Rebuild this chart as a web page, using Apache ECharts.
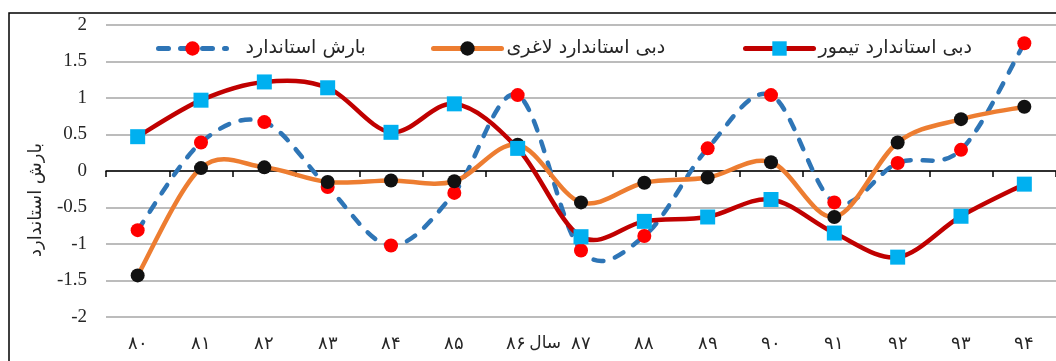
<!DOCTYPE html>
<html>
<head>
<meta charset="utf-8">
<script src="https://cdn.jsdelivr.net/npm/echarts@6/dist/echarts.min.js"></script>
<style>
  html, body { margin: 0; padding: 0; background: #fff; }
  #chart { width: 1056px; height: 361px; }
</style>
</head>
<body>
<div id="chart"></div>
<script>
// Years (Persian digits) on the category axis
const years = ['۸۰', '۸۱', '۸۲', '۸۳', '۸۴', '۸۵', '۸۶', '۸۷', '۸۸', '۸۹', '۹۰', '۹۱', '۹۲', '۹۳', '۹۴'];

// Series names
const namePrecip = 'بارش استاندارد';
const nameLaghari = 'دبی استاندارد لاغری';
const nameTeymour = 'دبی استاندارد تیمور';

// Standardized values per year
const precip = [-0.81, 0.39, 0.67, -0.22, -1.02, -0.30, 1.04, -1.09, -0.89, 0.31, 1.04, -0.43, 0.11, 0.29, 1.75];
const flowLaghari = [-1.43, 0.04, 0.05, -0.15, -0.13, -0.14, 0.36, -0.43, -0.16, -0.09, 0.12, -0.63, 0.39, 0.71, 0.88];
const flowTeymour = [0.47, 0.97, 1.22, 1.14, 0.53, 0.92, 0.31, -0.90, -0.69, -0.63, -0.39, -0.85, -1.18, -0.62, -0.18];

// Value axis range
const yMin = -2, yMax = 2, yStep = 0.5;

const axisTitle = 'بارش استاندارد';
const yearWord = 'سال';
const yearWordAt = '۸۶';

const persianFont = '"DejaVu Sans", "Noto Sans", sans-serif';
const latinFont = '"Liberation Serif", "DejaVu Serif", serif';

const colors = {
  precipLine: '#2e75b6', precipMark: '#ff0000',
  laghariLine: '#ed7d31', laghariMark: '#111111',
  teymourLine: '#c00000', teymourMark: '#00b0f0'
};
const lineWidth = 4.5;
const dashPattern = [10, 12];

const chart = echarts.init(document.getElementById('chart'), null, { renderer: 'canvas' });

// Smooth curve through the values (uniform Catmull-Rom, as cubic Beziers),
// positioned with the chart's own axes via api.coord.
function curveSeries(id, values, color, dash) {
  return {
    id: id,
    type: 'custom',
    data: [0],
    silent: true,
    renderItem: function (params, api) {
      const pts = values.map(function (v, i) { return api.coord([i, v]); });
      const n = pts.length;
      let d = 'M' + pts[0][0] + ',' + pts[0][1];
      for (let i = 0; i < n - 1; i++) {
        const p0 = pts[Math.max(i - 1, 0)];
        const p1 = pts[i];
        const p2 = pts[i + 1];
        const p3 = pts[Math.min(i + 2, n - 1)];
        const c1x = p1[0] + (p2[0] - p0[0]) / 6;
        const c1y = p1[1] + (p2[1] - p0[1]) / 6;
        const c2x = p2[0] - (p3[0] - p1[0]) / 6;
        const c2y = p2[1] - (p3[1] - p1[1]) / 6;
        d += ' C' + c1x + ',' + c1y + ' ' + c2x + ',' + c2y + ' ' + p2[0] + ',' + p2[1];
      }
      return {
        type: 'path',
        shape: { pathData: d },
        style: {
          fill: 'none',
          stroke: color,
          lineWidth: lineWidth,
          lineDash: dash || null,
          lineCap: 'round',
          lineJoin: 'round'
        }
      };
    }
  };
}

// Markers for each year (the line itself is drawn by curveSeries)
function markerSeries(name, values, markColor, symbol, size) {
  return {
    name: name,
    type: 'line',
    data: values,
    symbol: symbol,
    symbolSize: size,
    showAllSymbol: true,
    itemStyle: { color: markColor },
    lineStyle: { opacity: 0 }
  };
}

function legendAt(name, left, textGap, color, type) {
  return {
    data: [name],
    left: left,
    top: 34,
    itemWidth: 68,
    itemHeight: 18,
    itemGap: 0,
    lineStyle: { color: color, width: 5, type: type, cap: 'round', opacity: 1 },
    textStyle: {
      fontFamily: persianFont, fontSize: 19, color: '#262626',
      padding: [0, 0, 0, textGap]
    }
  };
}

chart.setOption({
  animation: false,
  backgroundColor: '#fff',
  grid: { left: 106, right: -6, top: 25, bottom: 44, containLabel: false },
  legend: [
    legendAt(namePrecip, 151, 14, colors.precipLine, dashPattern),
    legendAt(nameLaghari, 426, 0, colors.laghariLine, 'solid'),
    legendAt(nameTeymour, 738, 0, colors.teymourLine, 'solid')
  ],
  graphic: [
    {
      type: 'rect',
      shape: { x: 9, y: 13, width: 1100, height: 400 },
      style: { fill: 'none', stroke: '#000', lineWidth: 1.5 },
      silent: true
    },
    {
      type: 'text',
      x: 36, y: 200,
      rotation: Math.PI / 2,
      style: {
        text: axisTitle,
        fontFamily: persianFont,
        fontSize: 18,
        fill: '#262626',
        align: 'center',
        verticalAlign: 'middle'
      },
      silent: true
    }
  ],
  xAxis: [
    {
      // axis line drawn through zero, with ticks between years
      type: 'category',
      data: years,
      boundaryGap: true,
      axisLine: { onZero: true, lineStyle: { color: '#000', width: 1.5 } },
      axisTick: { show: true, length: 6, interval: 0, lineStyle: { color: '#000', width: 1.5 } },
      axisLabel: { show: false },
      splitLine: { show: false }
    },
    {
      // year labels along the bottom
      type: 'category',
      data: years,
      position: 'bottom',
      boundaryGap: true,
      axisLine: { show: false, onZero: false },
      axisTick: { show: false },
      splitLine: { show: false },
      axisLabel: {
        interval: 0,
        margin: 18,
        fontFamily: latinFont,
        fontSize: 18,
        color: '#262626',
        formatter: function (v) {
          return v === yearWordAt ? '{pad|}' + v + '{w|' + yearWord + '}' : v;
        },
        rich: {
          pad: { width: 32 },
          w: { fontFamily: persianFont, fontSize: 17, color: '#262626', padding: [0, 0, 0, 3] }
        }
      }
    }
  ],
  yAxis: {
    type: 'value',
    min: yMin,
    max: yMax,
    interval: yStep,
    axisLine: { show: false },
    axisTick: { show: false },
    axisLabel: {
      margin: 19,
      fontFamily: latinFont,
      fontSize: 19,
      color: '#262626'
    },
    splitLine: { lineStyle: { color: '#a6a6a6', width: 1.5 } }
  },
  series: [
    curveSeries('precipCurve', precip, colors.precipLine, dashPattern),
    markerSeries(namePrecip, precip, colors.precipMark, 'circle', 14),
    curveSeries('laghariCurve', flowLaghari, colors.laghariLine, null),
    markerSeries(nameLaghari, flowLaghari, colors.laghariMark, 'circle', 14),
    curveSeries('teymourCurve', flowTeymour, colors.teymourLine, null),
    markerSeries(nameTeymour, flowTeymour, colors.teymourMark, 'rect', 15)
  ]
});
</script>
</body>
</html>
